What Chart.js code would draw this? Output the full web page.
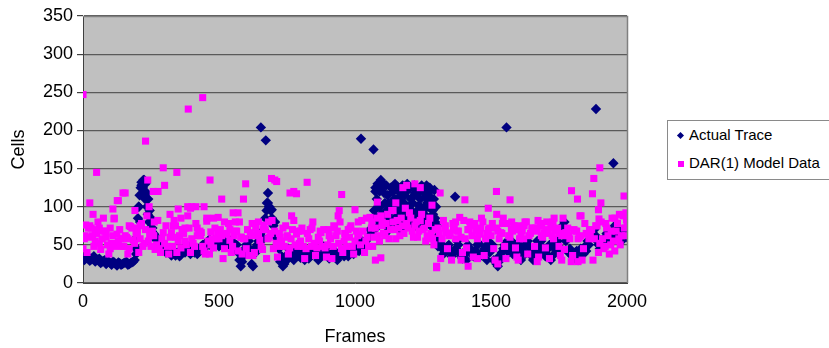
<!DOCTYPE html>
<html>
<head>
<meta charset="utf-8">
<script src="https://cdn.jsdelivr.net/npm/chart.js@4.4.0/dist/chart.umd.min.js"></script>
<style>
  html, body { margin: 0; padding: 0; background: #fff; }
  #wrap { position: relative; width: 829px; height: 348px; overflow: hidden; }
  #legend {
    position: absolute; left: 667px; top: 120px; width: 170px; height: 58px;
    border: 1px solid #8a8a8a; background: #fff;
    font-family: "Liberation Sans", Arial, sans-serif; font-size: 15px; color: #000;
  }
  .item { position: absolute; left: 21px; white-space: nowrap; }
  .mark { position: absolute; left: 10px; }
  .diamond { width: 5px; height: 5px; background: #000080; transform: rotate(45deg); }
  .square { width: 6px; height: 6px; background: #ff00ff; }
</style>
</head>
<body>
<div id="wrap">
  <canvas id="chart" width="829" height="348"></canvas>
  <div id="legend">
    <div class="mark diamond" style="top:12px"></div>
    <div class="item" style="top:5px">Actual Trace</div>
    <div class="mark square" style="top:40px"></div>
    <div class="item" style="top:33px">DAR(1) Model Data</div>
  </div>
</div>
<script>
// Frames sampled every 10, plus the in-between frames (5, 15, ...)
const frames = Array.from({ length: 201 }, (_, i) => i * 10);
const framesMid = Array.from({ length: 200 }, (_, i) => i * 10 + 5);

// Actual trace at frames 0, 10, ... 2000
const actualTrace = [
  33, 32, 34, 31, 35, 30, 32, 28, 30, 27, 26, 28, 25, 27, 24, 26, 28, 25, 27, 30,
  45, 80, 125, 130, 110, 85, 65, 60, 55, 48,
  45, 42, 40, 38, 36, 40, 37, 45, 42, 48, 44, 40, 38, 45, 50,
  52, 55, 50, 56, 53, 48, 52, 55, 50, 47, 53, 45, 40, 22, 35, 50, 55, 25, 45, 50,
  50, 60, 85, 105, 95, 75, 60, 45,
  35, 25, 30, 40, 35, 45, 38, 33, 40, 36, 32, 38, 42, 35, 33, 40, 45, 38, 35, 40,
  33, 37, 42, 35, 38, 45, 40, 42, 48, 45, 50, 55, 60, 65,
  95, 110, 120, 125, 105, 115, 100, 120, 110, 95, 115, 105, 120, 100, 112, 118, 95, 110, 120, 100,
  115, 105, 110, 60,
  50, 45, 40, 48, 42, 38, 45, 50, 35, 40, 30, 45, 38, 42, 50, 35, 40, 48, 55, 45,
  30, 25, 35, 40, 50,
  55, 45, 38, 50, 45, 30, 40, 52, 48, 35, 42, 55, 50, 40, 35, 45, 30, 50, 42, 48,
  65, 80, 60, 45, 35, 40, 30, 45, 38, 42,
  50, 60, 70, 55, 45, 55, 60, 58, 62, 65, 72, 60, 55, 68, 60
];

// Actual trace at frames 5, 15, ... 1995
const actualTraceMid = [
  30, 35, 29, 33, 28, 31, 26, 29, 25, 28, 24, 27, 23, 26, 25, 27, 24, 26, 28, 38,
  100, 128, 135, 118, 95, 72, 62, 56, 50, 46,
  40, 44, 36, 42, 38, 35, 43, 40, 47, 38, 42, 46, 40, 48, 45,
  50, 57, 47, 54, 58, 50, 55, 48, 52, 56, 45, 50, 30, 28, 45, 48, 40, 22, 40, 55,
  55, 70, 95, 100, 85, 65, 50,
  28, 22, 35, 45, 40, 30, 42, 35, 45, 30, 40, 35, 45, 38, 30, 36, 48, 40, 32, 38,
  42, 30, 36, 40, 45, 35, 40, 38, 50, 42, 55, 48, 58, 70,
  85, 125, 100, 90, 130, 95, 85, 125, 100, 88, 105, 128, 92, 85, 110, 125, 80, 102, 128, 90,
  105, 125, 95, 85,
  48, 52, 38, 45, 50, 35, 42, 55, 40, 32, 38, 50, 45, 35, 42, 52, 38, 45, 30, 40,
  50, 28, 22, 30, 45,
  48, 40, 55, 42, 35, 50, 45, 38, 55, 45, 30, 48, 40, 55, 45, 38, 50, 35, 45, 55,
  72, 75, 55, 40, 38, 32, 42, 35, 40, 48, 55,
  58, 65, 62, 50, 48, 58, 65, 55, 68, 75, 62, 58, 70, 65
];

// Actual trace: peak, busy block and outliers
const actualExtraFrames = [
  195, 198, 202, 205, 208, 212, 215, 218, 222, 225, 228, 232, 235, 238, 243, 247, 253, 258, 265,
  654, 672, 676, 680, 684, 694, 706,
  1022, 1068,
  1072, 1075, 1078, 1083, 1086, 1092, 1095, 1098, 1103, 1107, 1112, 1115, 1118, 1123, 1127,
  1132, 1135, 1138, 1143, 1147, 1152, 1155, 1158, 1163, 1167, 1172, 1175, 1178, 1183, 1187,
  1192, 1195, 1198, 1203, 1207, 1212, 1215, 1218, 1223, 1227, 1232, 1235, 1238, 1243, 1247,
  1252, 1255, 1258, 1263, 1267, 1272, 1275, 1278, 1283, 1287, 1292, 1295, 1298, 1302, 1305,
  1368, 1557, 1886, 1950
];
const actualExtraCells = [
  45, 60, 85, 100, 115, 125, 132, 128, 135, 120, 110, 118, 100, 90, 80, 72, 68, 62, 58,
  204, 187, 105, 118, 100, 96, 80,
  189, 175,
  70, 120, 85, 130, 75, 100, 135, 80, 90, 118, 65, 128, 88, 105, 72,
  125, 95, 82, 110, 130, 78, 122, 92, 108, 70, 126, 85, 98, 115, 80,
  130, 90, 75, 125, 95, 105, 80, 128, 88, 115, 72, 120, 100, 85, 125,
  95, 78, 112, 128, 85, 100, 120, 75, 110, 90, 122, 80, 100, 75, 55,
  113, 204, 228, 157
];

// DAR(1) model data at frames 0, 10, ... 2000
const modelData = [
  45, 76, 60, 72, 48, 65, 52, 58, 68, 50, 45, 62, 48, 55, 58, 48, 60, 45, 72, 52,
  65, 58, 48, 70, 55, 48, 62, 50, 45, 58,
  52, 48, 60, 48, 75, 55, 46, 65, 50, 72, 58, 48, 62, 68, 48, 38, 55, 50, 46, 58,
  58, 62, 45, 65, 56, 48, 68, 42, 60, 58, 45, 36, 62, 40, 65, 56, 44, 70, 58, 65,
  45, 52, 48, 55, 48, 62, 46, 70, 50, 48, 55, 48, 45, 58, 48, 52, 46, 55, 48, 46,
  50, 58, 48, 62, 52, 45, 55, 48, 60, 48, 55, 62, 50, 68, 55, 48, 72,
  60, 85, 55, 75, 62, 90, 70, 80, 58, 72, 85, 65, 78, 92, 68, 75, 60, 82, 70, 55, 78, 65, 50,
  20, 65, 58, 72, 45, 65, 78, 58, 68, 60, 82, 46, 70, 62, 75, 58, 65, 80, 58, 70,
  62, 45, 72, 58, 65, 48, 78, 60, 68, 46, 75, 65, 58, 80, 62, 70, 48, 68, 75, 60,
  46, 65, 72, 58, 68, 48, 62, 44, 65, 58, 36, 68, 58, 62, 45, 65, 58, 70, 58, 75,
  52, 58, 48, 62, 50, 55, 68, 58, 62, 72, 80
];

// DAR(1) model data at frames 5, 15, ... 1995
const modelDataMid = [
  58, 40, 75, 62, 55, 80, 44, 68, 60, 38, 52, 85, 64, 70, 48, 62, 38, 74, 56, 65,
  40, 78, 52, 88, 62, 68, 44, 82, 40, 66,
  75, 38, 66, 82, 40, 62, 70, 55, 88, 40, 52, 78, 64, 66, 42, 85, 38, 58, 72, 66,
  70, 32, 64, 78, 40, 62, 68, 80, 38, 58, 70, 66, 36, 72, 62, 48, 76, 32, 60, 82,
  68, 34, 60, 72, 75, 38, 58, 82, 64, 52, 72, 32, 65, 70, 80, 36, 60, 66, 70, 34,
  62, 32, 72, 68, 80, 40, 62, 70, 75, 38, 68, 64, 82, 40, 60, 86, 48,
  72, 62, 88, 65, 78, 58, 95, 70, 82, 62, 75, 98, 72, 85, 60, 80, 68, 90, 72, 62, 85, 58, 70,
  72, 32, 82, 66, 62, 30, 75, 68, 86, 40, 58, 70, 78, 34, 68, 64, 85, 36, 65, 72,
  78, 30, 68, 66, 85, 32, 62, 70, 75, 34, 58, 68, 80, 38, 65, 72, 72, 34, 62, 66,
  80, 32, 62, 70, 72, 36, 85, 66, 62, 28, 70, 68, 60, 30, 78, 64, 62, 30, 75, 40,
  80, 45, 72, 38, 85, 42, 78, 50, 88, 62
];

// DAR(1) model data: scattered high and low points
const modelExtraFrames = [
  0, 8, 25, 37, 50, 60, 75, 110, 114, 126, 130, 147, 155, 165, 191, 200,
  230, 238, 243, 258, 276, 295, 300, 345, 350, 360, 385, 387, 400, 415, 440, 445,
  455, 467, 470, 497, 510, 520, 552, 570, 590, 598, 693, 705, 712, 761, 767, 775,
  785, 800, 824, 938, 942, 951, 1000, 1075, 1082, 1095, 1100, 1140, 1150, 1176,
  1190, 1220, 1240, 1283, 1300, 1313, 1370, 1390, 1404, 1416, 1440, 1450, 1490,
  1520, 1521, 1525, 1570, 1576, 1600, 1670, 1673, 1686, 1728, 1732, 1760, 1796,
  1818, 1820, 1827, 1831, 1873, 1878, 1895, 1897, 1900, 1904, 1956, 1989, 1996, 1998,
  20, 45, 85, 100, 140, 170, 210, 262, 320, 332, 340, 365, 375, 395, 420, 432,
  480, 540, 560, 582, 622, 645, 662, 682, 722, 752, 792, 842, 872, 902, 922, 962,
  982, 1012, 1042, 1062, 1332, 1362, 1422, 1462, 1542, 1592, 1622, 1652, 1702,
  1752, 1782, 1862, 1922, 1942, 1972
];
const modelExtraCells = [
  247, 62, 105, 90, 145, 72, 85, 97, 84, 108, 108, 118, 118, 58, 95, 72,
  186, 135, 100, 120, 120, 151, 128, 145, 97, 85, 100, 228, 100, 100, 243, 100,
  81, 135, 67, 86, 110, 80, 92, 92, 110, 130, 137, 135, 133, 118, 88, 120,
  117, 68, 132, 88, 95, 116, 96, 30, 106, 33, 80, 95, 105, 125,
  128, 130, 125, 102, 22, 118, 80, 30, 109, 22, 78, 32, 98,
  120, 90, 25, 109, 80, 30, 28, 82, 78, 80, 85, 30, 121,
  110, 28, 88, 88, 117, 137, 96, 84, 151, 105, 85, 114, 92, 83,
  72, 70, 65, 72, 58, 75, 75, 80, 90, 75, 60, 70, 72, 98, 72, 62,
  85, 70, 80, 60, 78, 80, 70, 80, 65, 60, 68, 72, 68, 70, 75, 65,
  72, 80, 85, 80, 75, 70, 80, 72, 78, 70, 75, 72, 70,
  65, 72, 70, 78, 68, 90
];

const yTicks = [0, 50, 100, 150, 200, 250, 300, 350];
const xTicks = [0, 500, 1000, 1500, 2000];

function toPoints(xs, ys) {
  return xs.map((x, i) => ({ x: x, y: ys[i] }));
}

const tickFont = { family: '"Liberation Sans", Arial, sans-serif', size: 18 };

new Chart(document.getElementById('chart'), {
  type: 'scatter',
  data: {
    datasets: [
      {
        label: 'DAR(1) Model Data',
        data: toPoints(frames, modelData)
          .concat(toPoints(framesMid, modelDataMid))
          .concat(toPoints(modelExtraFrames, modelExtraCells)),
        pointStyle: 'rect',
        pointRadius: 5,
        backgroundColor: '#ff00ff',
        borderColor: '#ff00ff',
        borderWidth: 0
      },
      {
        label: 'Actual Trace',
        data: toPoints(frames, actualTrace)
          .concat(toPoints(framesMid, actualTraceMid))
          .concat(toPoints(actualExtraFrames, actualExtraCells)),
        pointStyle: 'rectRot',
        pointRadius: 5.2,
        backgroundColor: '#000080',
        borderColor: '#000080',
        borderWidth: 0
      }
    ]
  },
  plugins: [{
    id: 'plotBg',
    beforeDraw(chart) {
      const a = chart.chartArea;
      const c = chart.ctx;
      c.save();
      c.fillStyle = '#c0c0c0';
      c.fillRect(a.left, a.top, a.right - a.left, a.bottom - a.top);
      c.restore();
    },
    afterDatasetsDraw(chart) {
      const a = chart.chartArea;
      const c = chart.ctx;
      c.save();
      c.strokeStyle = '#808080';
      c.lineWidth = 1.5;
      c.beginPath();
      c.moveTo(a.left, a.top + 0.5);
      c.lineTo(a.right + 0.5, a.top + 0.5);
      c.lineTo(a.right + 0.5, a.bottom);
      c.stroke();
      c.restore();
    }
  }],
  options: {
    responsive: false,
    animation: false,
    layout: { padding: { top: 16, right: 202, left: 0, bottom: 0 } },
    plugins: {
      legend: { display: false },
      tooltip: { enabled: false }
    },
    scales: {
      x: {
        type: 'linear',
        min: 0,
        max: 2000,
        afterFit: s => { s.height = 65; },
        afterBuildTicks: s => { s.ticks = xTicks.map(v => ({ value: v })); },
        grid: { display: false, drawTicks: true, tickLength: 6, tickColor: '#404040' },
        border: { display: true, color: '#404040', width: 1 },
        ticks: { color: '#000', font: tickFont, padding: 2, maxRotation: 0, callback: v => String(v) },
        title: {
          display: true, text: 'Frames', color: '#000',
          font: tickFont, padding: { top: 6, bottom: 0 }
        }
      },
      y: {
        min: 0,
        max: 350,
        afterFit: s => { s.width = 83; },
        afterBuildTicks: s => { s.ticks = yTicks.map(v => ({ value: v })); },
        grid: { color: '#5a5a5a', lineWidth: 1.2, tickLength: 6, tickColor: '#404040' },
        border: { display: true, color: '#404040', width: 1 },
        ticks: { color: '#000', font: tickFont, padding: 4, callback: v => String(v) },
        title: {
          display: true, text: 'Cells', color: '#000',
          font: tickFont, padding: { top: 8, bottom: 6 }
        }
      }
    }
  }
});
</script>
</body>
</html>
